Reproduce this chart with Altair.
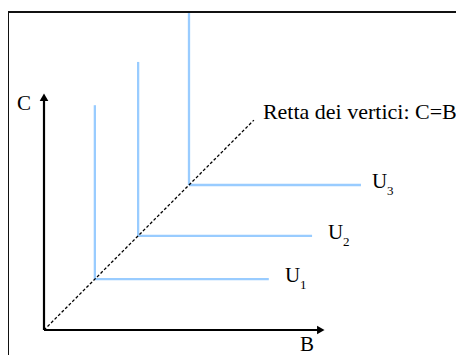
import altair as alt
import pandas as pd

# Indifference curves (perfect complements) in units of the B/C plane
curves = ["U1", "U2", "U3"]
vertex = [1.81, 3.35, 5.16]          # vertex on C = B
arm_end = [8.0, 9.54, 11.28]         # end of horizontal arm (B) and vertical arm (C)
label_x = [8.58, 10.11, 11.67]
subs = ["1", "2", "3"]

ray_end = 7.47                        # end of the dashed C = B line
b_axis_end = 10.0
c_axis_end = 8.43

ray_text = "Retta dei vertici: C=B"
ray_text_pos = (7.79, 7.76)
c_label_pos = (-0.71, 8.04)
b_label_pos = (9.36, -0.55)

XS = alt.Scale(domain=[0, 10], range=[36, 317])
YS = alt.Scale(domain=[0, 10], range=[322, 41])
FONT = "Liberation Serif"
FS = 21
BLUE = "#99ccff"

rows = []
for c, v, e in zip(curves, vertex, arm_end):
    rows.append({"curve": c, "x": v, "y": v, "x2": e, "y2": v})
    rows.append({"curve": c, "x": v, "y": v, "x2": v, "y2": e})
segs = pd.DataFrame(rows)

def X(f):
    return alt.X(f, type="quantitative", scale=XS, axis=None)

def Y(f):
    return alt.Y(f, type="quantitative", scale=YS, axis=None)

curves_layer = alt.Chart(segs).mark_rule(color=BLUE, strokeWidth=2.3).encode(
    x=X("x"), y=Y("y"), x2="x2", y2="y2"
)

ray = alt.Chart(pd.DataFrame({"x": [0], "y": [0], "x2": [ray_end], "y2": [ray_end]})).mark_rule(
    color="black", strokeWidth=1.3, strokeDash=[3, 2]
).encode(x=X("x"), y=Y("y"), x2="x2", y2="y2")

axes_df = pd.DataFrame({
    "x": [0, 0], "y": [0, 0],
    "x2": [b_axis_end - 0.2, 0], "y2": [0, c_axis_end - 0.2],
})
axes = alt.Chart(axes_df).mark_rule(color="black", strokeWidth=2.2).encode(
    x=X("x"), y=Y("y"), x2="x2", y2="y2"
)

heads_df = pd.DataFrame({
    "x": [b_axis_end - 0.15, 0], "y": [0, c_axis_end - 0.15],
    "shape": ["triangle-right", "triangle-up"],
})
heads = alt.Chart(heads_df).mark_point(filled=True, color="black", size=75, opacity=1).encode(
    x=X("x"), y=Y("y"), shape=alt.Shape("shape:N", scale=None, legend=None)
)

lab_df = pd.DataFrame({"x": label_x, "y": vertex, "sub": subs})
u_text = alt.Chart(lab_df).mark_text(
    text="U", font=FONT, fontSize=FS, align="left", baseline="middle", dy=-3, color="black"
).encode(x=X("x"), y=Y("y"))
sub_text = alt.Chart(lab_df).mark_text(
    font=FONT, fontSize=13, align="left", baseline="middle", dx=15, dy=6, color="black"
).encode(x=X("x"), y=Y("y"), text="sub:N")

txt_df = pd.DataFrame({
    "x": [ray_text_pos[0], c_label_pos[0], b_label_pos[0]],
    "y": [ray_text_pos[1], c_label_pos[1], b_label_pos[1]],
    "t": [ray_text, "C", "B"],
    "a": ["left", "center", "center"],
})
texts_c = alt.Chart(txt_df[txt_df.a == "center"]).mark_text(
    font=FONT, fontSize=FS, baseline="middle", color="black", align="center"
).encode(x=X("x"), y=Y("y"), text="t:N")
texts_l = alt.Chart(txt_df[txt_df.a == "left"]).mark_text(
    font=FONT, fontSize=22, baseline="middle", color="black", align="left"
).encode(x=X("x"), y=Y("y"), text="t:N")

frame_left = alt.Chart().mark_rule(color="#111111", strokeWidth=2).encode(
    x=alt.value(0), y=alt.value(4), y2=alt.value(347)
)
frame_top = alt.Chart().mark_rule(color="#111111", strokeWidth=2).encode(
    x=alt.value(0), x2=alt.value(448), y=alt.value(4)
)

chart = alt.layer(
    frame_left, frame_top, curves_layer, ray, axes, heads, u_text, sub_text, texts_l, texts_c
).properties(
    width=448, height=347, autosize=alt.AutoSizeParams(type="none"), padding=0,
    background="white",
).configure_view(stroke=None)

chart.save("out.html", embed_options={"renderer": "svg", "actions": False})
